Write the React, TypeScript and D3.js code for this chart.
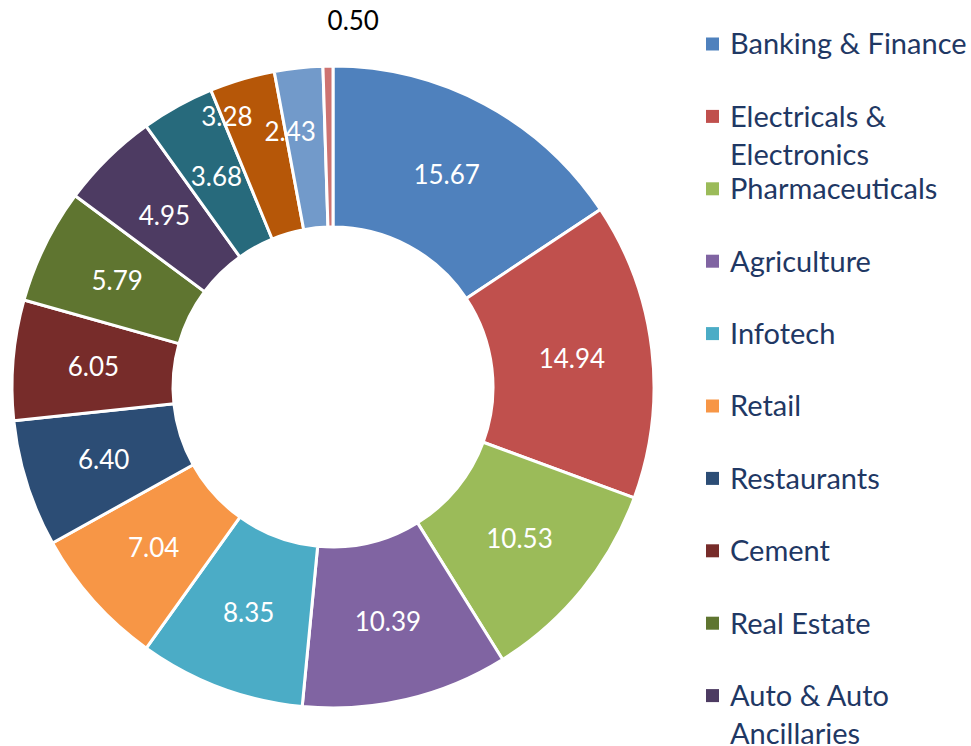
import React, { useEffect, useRef } from 'react';
import * as d3 from 'd3';

// sector shares (%), clockwise from 12 o'clock
const sectors = [
  'Banking & Finance',
  'Electricals & Electronics',
  'Pharmaceuticals',
  'Agriculture',
  'Infotech',
  'Retail',
  'Restaurants',
  'Cement',
  'Real Estate',
  'Auto & Auto Ancillaries',
  'Sector 11',
  'Sector 12',
  'Sector 13',
  'Sector 14',
];
const shares = [15.67, 14.94, 10.53, 10.39, 8.35, 7.04, 6.4, 6.05, 5.79, 4.95, 3.68, 3.28, 2.43, 0.5];
// legend text lines, wrapped as in the original (the rest of the legend falls below the frame)
const legendLines = [
  ['Banking & Finance'],
  ['Electricals &', 'Electronics'],
  ['Pharmaceuticals'],
  ['Agriculture'],
  ['Infotech'],
  ['Retail'],
  ['Restaurants'],
  ['Cement'],
  ['Real Estate'],
  ['Auto & Auto', 'Ancillaries'],
];
const palette = [
  '#4F81BD', '#C0504D', '#9BBB59', '#8064A2', '#4BACC6', '#F79646', '#2C4D75',
  '#772C2A', '#5F7530', '#4D3B62', '#276A7C', '#B65708', '#729ACA', '#CD7371',
];

const W = 971;
const H = 746;
const FONT = 'Lato, "Open Sans", sans-serif';

const DonutChart = () => {
  const svgRef = useRef<SVGSVGElement>(null);

  useEffect(() => {
    const svg = d3.select(svgRef.current);
    svg.selectAll('*').remove();

    const cx = 333, cy = 387;
    const outer = 321, inner = 160;

    const data = sectors.map((name, i) => ({ name, value: shares[i] }));
    const color = d3.scaleOrdinal<string>().domain(sectors).range(palette);

    const pie = d3.pie<{ name: string; value: number }>()
      .value(d => d.value)
      .sort(null);
    const arc = d3.arc<d3.PieArcDatum<{ name: string; value: number }>>()
      .innerRadius(inner)
      .outerRadius(outer);

    const g = svg.append('g').attr('transform', `translate(${cx},${cy})`);
    const arcs = pie(data);

    g.selectAll('path')
      .data(arcs)
      .enter().append('path')
      .attr('d', arc)
      .attr('fill', d => color(d.data.name))
      .attr('stroke', '#fff')
      .attr('stroke-width', 3)
      .attr('stroke-linejoin', 'round');

    // labels nudged off their slices where Excel moved them to avoid overlap
    const nudge: Record<string, [number, number]> = {
      'Sector 12': [-38, -40],
      'Sector 13': [-17, -16],
    };

    g.selectAll('text.val')
      .data(arcs)
      .enter().append('text')
      .attr('class', 'val')
      .attr('transform', d => {
        let [x, y] = arc.centroid(d);
        if (d.data.value < 1) {
          const a = (d.startAngle + d.endAngle) / 2;
          x = Math.sin(a) * (outer + 45) + 26;
          y = -Math.cos(a) * (outer + 45);
        }
        const n = nudge[d.data.name] || [0, 0];
        return `translate(${x + n[0]},${y + n[1]})`;
      })
      .attr('dy', '0.36em')
      .attr('text-anchor', 'middle')
      .attr('font-family', FONT)
      .attr('font-size', 26)
      .attr('fill', d => (d.data.value < 1 ? '#000' : '#fff'))
      .text(d => d3.format('.2f')(d.data.value));

    // legend
    const step = 72.4;
    const legend = svg.append('g')
      .selectAll('g')
      .data(legendLines)
      .enter().append('g')
      .attr('transform', (d, i) => `translate(706,${44 + i * step})`);

    legend.append('rect')
      .attr('x', 0)
      .attr('y', -6.5)
      .attr('width', 13)
      .attr('height', 13)
      .attr('fill', (d, i) => color(sectors[i]));

    legend.selectAll('text')
      .data(d => d)
      .enter().append('text')
      .attr('x', 24)
      .attr('y', (t, j) => j * 38)
      .attr('dy', '0.36em')
      .attr('font-family', FONT)
      .attr('font-size', 29)
      .attr('fill', '#1F3864')
      .text(t => t);
  }, []);

  return (
    <svg
      ref={svgRef}
      width={W}
      height={H}
      style={{ position: 'absolute', left: 0, top: 0, background: '#fff' }}
    />
  );
};

export default function App() {
  return <DonutChart />;
}
